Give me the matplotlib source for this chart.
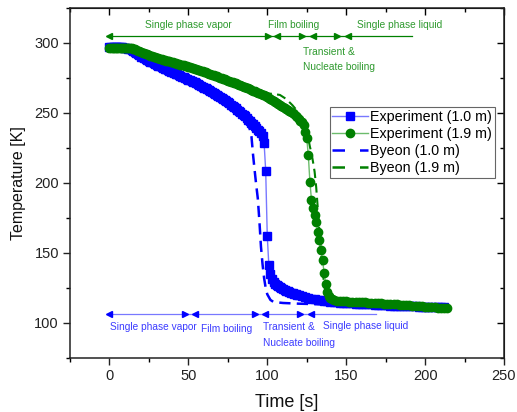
import matplotlib
matplotlib.use("Agg")
import matplotlib.pyplot as plt
from matplotlib.ticker import MultipleLocator
from matplotlib.lines import Line2D

plt.rcParams['font.family'] = ['Liberation Sans', 'DejaVu Sans']

# ---- Experiment, thermocouple at 1.0 m (1 s logging, 2 s after 120 s) ----
t_exp10 = list(range(0, 121)) + list(range(122, 213, 2))
T_exp10 = [297.0, 297.0, 297.0, 297.0, 297.0, 297.0, 296.9, 296.9, 296.8, 296.7,
           296.5, 296.3, 296.0, 295.6, 295.0, 294.3, 293.5, 292.7, 291.9, 291.1,
           290.3, 289.7, 289.1, 288.4, 287.8, 287.2, 286.7, 286.1, 285.5, 284.9,
           284.4, 283.8, 283.3, 282.8, 282.3, 281.7, 281.2, 280.7, 280.2, 279.6,
           279.1, 278.6, 278.1, 277.5, 277.0, 276.5, 276.0, 275.4, 274.9, 274.4,
           273.9, 273.3, 272.8, 272.3, 271.8, 271.2, 270.7, 270.1, 269.5, 268.9,
           268.2, 267.6, 267.0, 266.4, 265.7, 265.0, 264.3, 263.6, 262.9, 262.2,
           261.5, 260.8, 260.0, 259.3, 258.5, 257.7, 256.9, 256.0, 255.1, 254.2,
           253.3, 252.4, 251.5, 250.5, 249.5, 248.5, 247.5, 246.4, 245.2, 244.1,
           242.9, 241.8, 240.6, 239.4, 238.2, 237.0, 235.7, 233.6, 228.4, 208.8,
           162.0, 141.2, 135.0, 131.2, 129.0, 127.9, 127.0, 126.2, 125.5, 124.8,
           124.2, 123.7, 123.2, 122.7, 122.2, 121.7, 121.3, 120.9, 120.5, 120.1,
           119.8,
           119.0, 118.4, 117.8, 117.3, 116.9, 116.5, 116.1, 115.8, 115.5, 115.2,
           115.0, 114.8, 114.6, 114.5, 114.3, 114.2, 114.1, 113.9, 113.8, 113.7,
           113.5, 113.4, 113.3, 113.1, 113.0, 112.9, 112.7, 112.6, 112.5, 112.3,
           112.2, 112.1, 112.1, 112.0, 111.9, 111.9, 111.8, 111.7, 111.7, 111.6,
           111.5, 111.5, 111.4, 111.3, 111.3, 111.2]

# ---- Experiment, thermocouple at 1.9 m (1 s logging, 2 s after 142 s) ----
t_exp19 = list(range(0, 143)) + list(range(144, 215, 2))
T_exp19 = [296.6, 296.6, 296.6, 296.6, 296.6, 296.6, 296.6, 296.5, 296.5, 296.5,
           296.5, 296.4, 296.4, 296.3, 296.2, 295.9, 295.5, 295.0, 294.5, 294.0,
           293.5, 293.0, 292.6, 292.2, 291.8, 291.3, 290.9, 290.5, 290.1, 289.7,
           289.3, 289.0, 288.7, 288.4, 288.1, 287.7, 287.4, 287.1, 286.8, 286.5,
           286.2, 285.9, 285.6, 285.3, 285.0, 284.6, 284.3, 284.0, 283.7, 283.4,
           283.1, 282.7, 282.4, 282.0, 281.6, 281.3, 280.9, 280.5, 280.1, 279.8,
           279.4, 279.0, 278.6, 278.2, 277.8, 277.4, 277.0, 276.5, 276.1, 275.7,
           275.3, 274.9, 274.5, 274.1, 273.7, 273.2, 272.8, 272.4, 272.0, 271.5,
           271.1, 270.6, 270.2, 269.7, 269.3, 268.8, 268.4, 267.9, 267.5, 267.0,
           266.5, 266.0, 265.5, 265.0, 264.5, 264.0, 263.5, 263.0, 262.5, 262.0,
           261.4, 260.8, 260.1, 259.5, 258.8, 258.1, 257.4, 256.7, 256.0, 255.3,
           254.6, 253.9, 253.1, 252.4, 251.6, 250.8, 250.0, 249.0, 248.0, 246.9,
           245.8, 244.6, 243.4, 241.7, 236.5, 232.0, 220.0, 201.0, 188.0, 182.0,
           177.0, 172.0, 165.0, 159.0, 152.0, 145.0, 136.0, 128.0, 122.5, 119.5,
           117.8, 116.8, 116.3,
           116.0, 115.8, 115.6, 115.5, 115.3, 115.2, 115.1, 114.9, 114.8, 114.7,
           114.5, 114.4, 114.3, 114.1, 114.0, 113.9, 113.7, 113.6, 113.5, 113.3,
           113.2, 113.0, 112.8, 112.6, 112.4, 112.2, 112.0, 111.8, 111.6, 111.4,
           111.3, 111.1, 111.0, 110.9, 110.7, 110.6]

# ---- Byeon model predictions ----
t_by10 = [0, 10, 15, 20, 30, 40, 50, 60, 70, 80, 85, 87, 89, 90, 91, 92, 93, 94, 95, 96,
          97, 98, 99, 100, 102, 104, 110, 120, 140, 160, 180, 200, 210]
T_by10 = [297.0, 296.5, 294.0, 290.5, 284.7, 279.4, 274.2, 268.5, 261.7, 253.2, 248.0, 245.0,
          238.0, 233.0, 220.0, 209.0, 198.5, 189.0, 173.0, 154.5, 142.0, 132.0, 125.0, 120.5,
          116.5, 115.0, 114.3, 113.8, 113.2, 112.6, 112.0, 111.5, 111.2]

t_by19 = [0, 10, 20, 30, 40, 50, 60, 70, 80, 90, 100, 104, 108, 112, 116, 119, 122, 124,
          126, 127, 128, 129, 130, 131, 132, 133, 134, 135, 136, 137, 138, 140, 145, 160,
          180, 200, 210]
T_by19 = [297.0, 296.8, 293.5, 289.5, 286.5, 283.5, 280.0, 276.5, 272.5, 268.5, 264.0, 263.6,
          262.9, 260.0, 255.5, 251.5, 246.0, 241.0, 232.0, 226.0, 221.5, 215.0, 208.0, 197.0,
          182.0, 166.0, 151.0, 138.0, 128.0, 121.5, 118.5, 116.5, 115.2, 114.3, 113.3, 112.2,
          111.7]

# ---- Boiling regime markers (region boundaries) ----
regime19_span = [0, 192]
regime19_heads_left = [0, 106, 129, 151]
regime19_heads_right = [100.5, 122, 144]
regime19_level = 305
regime19_labels = ["Single phase vapor", "Film boiling", "Single phase liquid",
                   "Transient &", "Nucleate boiling"]

regime10_span = [0, 169]
regime10_heads_left = [0, 54, 98.7, 127.7]
regime10_heads_right = [48, 92, 121]
regime10_level = 106.4
regime10_labels = ["Single phase vapor", "Film boiling", "Transient &",
                   "Nucleate boiling", "Single phase liquid"]

BLUE = "#0000ff"
BLUE_LINE = "#7878ff"
GREEN = "#008000"
GREEN_LINE = "#6cbc6c"
BLUE_TXT = "#3c3cff"
GREEN_TXT = "#2f9a2f"

fig = plt.figure(figsize=(5.17, 4.12), dpi=100)
ax = fig.add_axes([70 / 517, 1 - 358 / 412, 434 / 517, 350 / 412])

dash = (0, (4.5, 2.5))
ax.plot(t_by10, T_by10, color=BLUE, lw=1.8, ls=dash, zorder=2)
ax.plot(t_by19, T_by19, color=GREEN, lw=1.5, ls=dash, zorder=2)
ax.plot(t_exp10, T_exp10, color=BLUE_LINE, lw=1.0, marker='s', ms=6,
        mfc=BLUE, mec=BLUE, zorder=3)
ax.plot(t_exp19, T_exp19, color=GREEN_LINE, lw=1.0, marker='o', ms=6,
        mfc=GREEN, mec=GREEN, zorder=4)

fs_ann = 7.3

# regime arrows: 1.9 m (top, green)
ax.plot(regime19_span, [regime19_level] * 2, color=GREEN, lw=0.9, zorder=5)
ax.plot(regime19_heads_left, [regime19_level] * len(regime19_heads_left), ls='none',
        marker='<', ms=4, color=GREEN, zorder=5)
ax.plot(regime19_heads_right, [regime19_level] * len(regime19_heads_right), ls='none',
        marker='>', ms=4, color=GREEN, zorder=5)
ax.text(50, 313, regime19_labels[0], color=GREEN_TXT, fontsize=fs_ann, ha='center', va='center')
ax.text(116.5, 313, regime19_labels[1], color=GREEN_TXT, fontsize=fs_ann, ha='center', va='center')
ax.text(184, 313, regime19_labels[2], color=GREEN_TXT, fontsize=fs_ann, ha='center', va='center')
ax.text(122.5, 293.8, regime19_labels[3], color=GREEN_TXT, fontsize=fs_ann, ha='left', va='center')
ax.text(122.5, 283.1, regime19_labels[4], color=GREEN_TXT, fontsize=fs_ann, ha='left', va='center')

# regime arrows: 1.0 m (bottom, blue)
ax.plot(regime10_span, [regime10_level] * 2, color=BLUE_LINE, lw=0.9, zorder=5)
ax.plot(regime10_heads_left, [regime10_level] * len(regime10_heads_left),
        ls='none', marker='<', ms=4, color=BLUE, zorder=5)
ax.plot(regime10_heads_right, [regime10_level] * len(regime10_heads_right), ls='none',
        marker='>', ms=4, color=BLUE, zorder=5)
ax.text(28, 97.4, regime10_labels[0], color=BLUE_TXT, fontsize=fs_ann, ha='center', va='center')
ax.text(74.5, 95.5, regime10_labels[1], color=BLUE_TXT, fontsize=fs_ann, ha='center', va='center')
ax.text(97, 97.2, regime10_labels[2], color=BLUE_TXT, fontsize=fs_ann, ha='left', va='center')
ax.text(97, 85.5, regime10_labels[3], color=BLUE_TXT, fontsize=fs_ann, ha='left', va='center')
ax.text(135.5, 97.9, regime10_labels[4], color=BLUE_TXT, fontsize=fs_ann, ha='left', va='center')

ax.set_xlim(-25, 250)
ax.set_ylim(75, 325)
ax.xaxis.set_major_locator(MultipleLocator(50))
ax.xaxis.set_minor_locator(MultipleLocator(25))
ax.yaxis.set_major_locator(MultipleLocator(50))
ax.yaxis.set_minor_locator(MultipleLocator(25))
ax.tick_params(which='major', direction='out', length=5, width=1.0, labelsize=10.5,
               colors='#222222', pad=3)
ax.tick_params(which='minor', direction='out', length=3, width=1.0)

# mirrored inward ticks on top and right
top = ax.secondary_xaxis('top')
top.xaxis.set_major_locator(MultipleLocator(50))
top.xaxis.set_minor_locator(MultipleLocator(25))
top.tick_params(which='major', direction='in', length=5, width=1.0, labeltop=False)
top.tick_params(which='minor', direction='in', length=3, width=1.0)
right = ax.secondary_yaxis('right')
right.yaxis.set_major_locator(MultipleLocator(50))
right.yaxis.set_minor_locator(MultipleLocator(25))
right.tick_params(which='major', direction='in', length=5, width=1.0, labelright=False)
right.tick_params(which='minor', direction='in', length=3, width=1.0)

for sp in ax.spines.values():
    sp.set_linewidth(1.1)
    sp.set_color('#222222')

ax.set_xlabel("Time [s]", fontsize=13, color='#111111', labelpad=8)
ax.set_ylabel("Temperature [K]", fontsize=11.5, color='#111111', labelpad=6)

handles = [
    Line2D([], [], color=BLUE_LINE, lw=1.0, marker='s', ms=6, mfc=BLUE, mec=BLUE),
    Line2D([], [], color=GREEN_LINE, lw=1.0, marker='o', ms=6, mfc=GREEN, mec=GREEN),
    Line2D([], [], color=BLUE, lw=1.8, ls=(0, (5, 6))),
    Line2D([], [], color=GREEN, lw=1.8, ls=(0, (5, 6))),
]
labels = ["Experiment (1.0 m)", "Experiment (1.9 m)", "Byeon (1.0 m)", "Byeon (1.9 m)"]
leg = ax.legend(handles, labels, loc='upper right', bbox_to_anchor=(0.979, 0.718),
                borderaxespad=0, fontsize=10.25, frameon=True, fancybox=False,
                edgecolor='#404040', handlelength=2.5, handletextpad=0.15,
                labelspacing=0.22, borderpad=0.2, numpoints=1)
leg.get_frame().set_linewidth(0.8)
leg.set_zorder(6)

fig.savefig("out.png", dpi=100)
